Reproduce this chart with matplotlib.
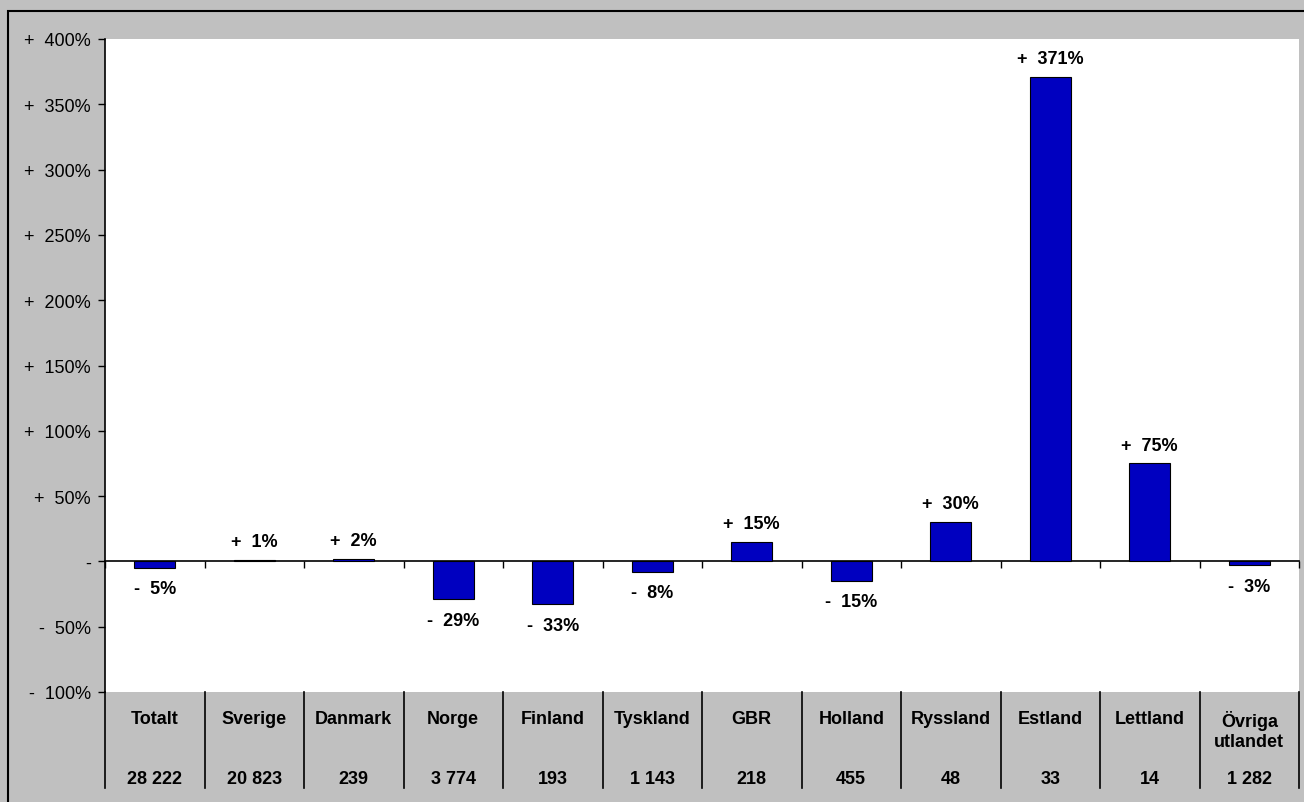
import matplotlib
matplotlib.use("Agg")
import matplotlib.pyplot as plt
from matplotlib.patches import Rectangle

# data
countries = ["Totalt", "Sverige", "Danmark", "Norge", "Finland", "Tyskland",
             "GBR", "Holland", "Ryssland", "Estland", "Lettland", "Övriga\nutlandet"]
change_pct = [-5, 1, 2, -29, -33, -8, 15, -15, 30, 371, 75, -3]
counts = ["28 222", "20 823", "239", "3 774", "193", "1 143",
          "218", "455", "48", "33", "14", "1 282"]
yticks = [-100, -50, 0, 50, 100, 150, 200, 250, 300, 350, 400]

W, H = 1304, 803
plt.rcParams["font.family"] = ["Liberation Sans", "DejaVu Sans"]
FS = 13

fig = plt.figure(figsize=(W / 100, H / 100), dpi=100, facecolor="#C0C0C0")
# plot area in pixels: x 105..1299, y 40..693
ax = fig.add_axes([105 / W, (H - 693) / H, 1194 / W, 653 / H])
ax.set_facecolor("white")

x = list(range(len(countries)))
ax.bar(x, change_pct, width=0.41, color="#0000C0", edgecolor="black", linewidth=0.8, zorder=3)

ax.set_xlim(-0.5, len(countries) - 0.5)
ax.set_ylim(-100, 400)


def fmt(v):
    if v == 0:
        return "-"
    return ("+  " if v > 0 else "-  ") + f"{abs(v)}%"


ax.set_yticks(yticks)
ax.set_yticklabels([fmt(v) for v in yticks], fontsize=FS)
ax.tick_params(axis="y", direction="out", length=5, width=1, pad=5)

# x axis sits on the zero line, ticks at category borders
ax.spines["bottom"].set_position(("data", 0))
ax.spines["bottom"].set_linewidth(1.2)
ax.set_xticks([i - 0.5 for i in range(len(countries) + 1)])
ax.set_xticklabels([])
ax.tick_params(axis="x", direction="out", length=5, width=1)
ax.spines["top"].set_visible(False)
ax.spines["right"].set_visible(False)
ax.spines["left"].set_linewidth(1.2)

for xi, v in zip(x, change_pct):
    if v >= 0:
        ax.annotate(fmt(v), (xi, v), xytext=(0, 10), textcoords="offset points",
                    ha="center", va="baseline", fontsize=FS, fontweight="bold")
    else:
        ax.annotate(fmt(v), (xi, v), xytext=(0, -9), textcoords="offset points",
                    ha="center", va="top", fontsize=FS, fontweight="bold")

# table under the plot
trans = ax.get_xaxis_transform()
for xi, name, n in zip(x, countries, counts):
    ax.text(xi, -0.0276, name, transform=trans, ha="center", va="top",
            fontsize=FS, fontweight="bold", linespacing=1.25)
    ax.text(xi, -0.1394, n, transform=trans, ha="center", va="baseline",
            fontsize=FS, fontweight="bold")
for b in range(len(countries) + 1):
    ax.plot([b - 0.5, b - 0.5], [0, -0.147], transform=trans, color="black",
            lw=1.2, clip_on=False)

# outer frame (only top and left edges fall inside the picture)
fig.add_artist(Rectangle((8 / W, -0.1), 2, (H - 12) / H + 0.1, transform=fig.transFigure,
                         fill=False, edgecolor="black", linewidth=1.5))

fig.savefig("out.png", dpi=100, facecolor=fig.get_facecolor())
